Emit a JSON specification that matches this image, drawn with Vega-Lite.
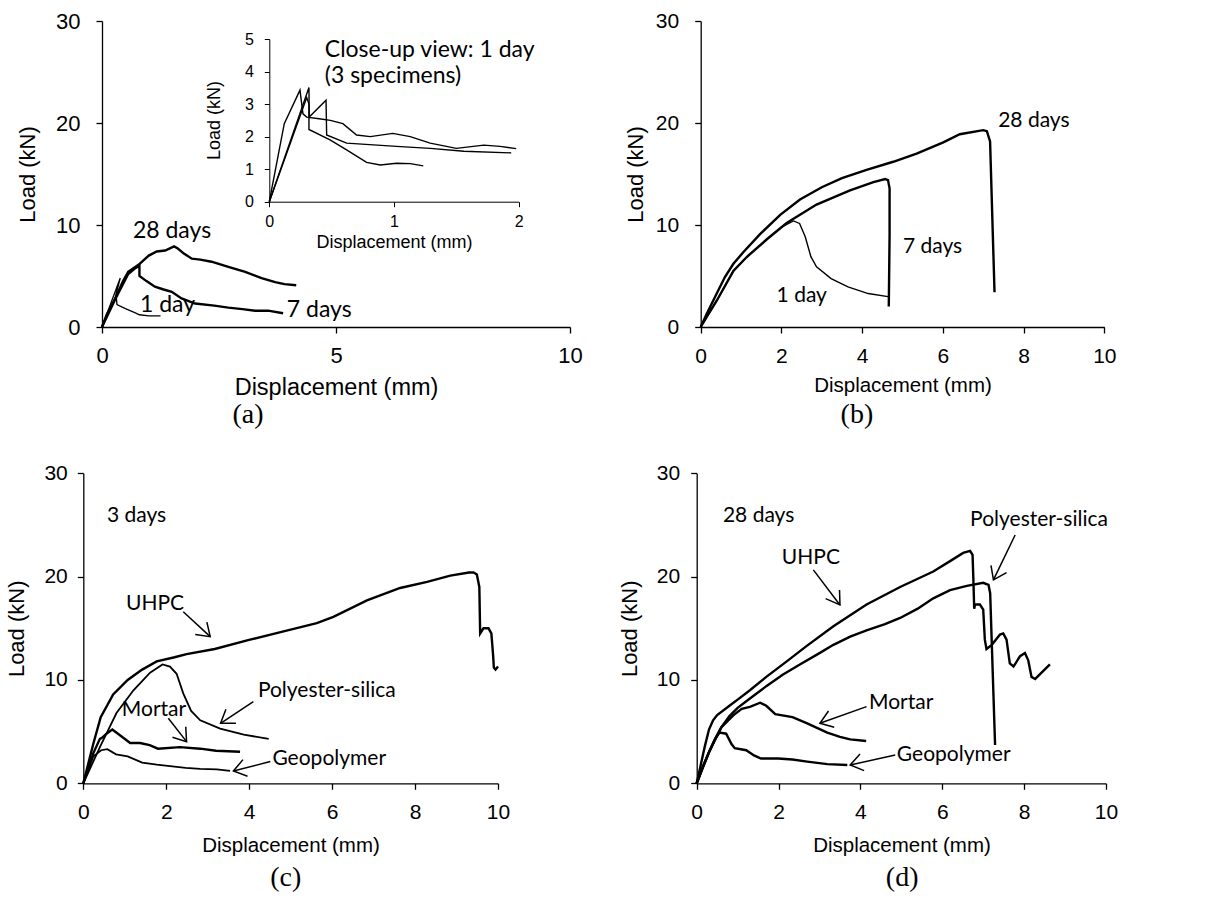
{
"$schema": "https://vega.github.io/schema/vega-lite/v6.json",
"width": 1207, "height": 903, "autosize": {"type": "none"}, "padding": 0, "background": "white",
"config": {"view": {"stroke": null}, "axis": {"grid": false, "domainColor": "black", "tickColor": "black", "labelColor": "black", "titleColor": "black", "labelFont": "Liberation Sans", "titleFont": "Liberation Sans", "titleFontWeight": "normal", "domainWidth": 1.3, "tickWidth": 1.3, "tickSize": 6, "labelFlush": false, "labelOverlap": false, "format": "d"}},
"datasets": {
"a_lines": [
{"s":"28","x":0,"y":0},{"s":"28","x":0.1,"y":1.2},{"s":"28","x":0.28,"y":2.8},{"s":"28","x":0.45,"y":4.5},{"s":"28","x":0.56,"y":5.4},{"s":"28","x":0.78,"y":6.1},{"s":"28","x":1.0,"y":7.0},{"s":"28","x":1.17,"y":7.4},{"s":"28","x":1.35,"y":7.5},{"s":"28","x":1.54,"y":7.9},{"s":"28","x":1.62,"y":7.7},{"s":"28","x":1.75,"y":7.2},{"s":"28","x":1.92,"y":6.7},{"s":"28","x":2.1,"y":6.6},{"s":"28","x":2.34,"y":6.4},{"s":"28","x":2.7,"y":5.9},{"s":"28","x":3.06,"y":5.4},{"s":"28","x":3.41,"y":4.8},{"s":"28","x":3.7,"y":4.4},{"s":"28","x":3.9,"y":4.2},{"s":"28","x":4.15,"y":4.1},
{"s":"7","x":0,"y":0},{"s":"7","x":0.28,"y":2.7},{"s":"7","x":0.56,"y":5.2},{"s":"7","x":0.72,"y":5.8},{"s":"7","x":0.8,"y":6.0},{"s":"7","x":0.8,"y":5.0},{"s":"7","x":0.95,"y":4.5},{"s":"7","x":1.13,"y":3.95},{"s":"7","x":1.3,"y":3.7},{"s":"7","x":1.49,"y":3.45},{"s":"7","x":1.7,"y":2.8},{"s":"7","x":1.99,"y":2.3},{"s":"7","x":2.4,"y":2.1},{"s":"7","x":2.7,"y":1.9},{"s":"7","x":3.0,"y":1.75},{"s":"7","x":3.27,"y":1.6},{"s":"7","x":3.55,"y":1.6},{"s":"7","x":3.87,"y":1.35},
{"s":"1","x":0,"y":0},{"s":"1","x":0.39,"y":4.8},{"s":"1","x":0.3,"y":3.2},{"s":"1","x":0.32,"y":2.2},{"s":"1","x":0.5,"y":1.8},{"s":"1","x":0.7,"y":1.4},{"s":"1","x":0.8,"y":1.2},{"s":"1","x":1.0,"y":1.1},{"s":"1","x":1.25,"y":1.1}
],
"a_text": [
{"t":"28 days","x":0.66,"y":8.73},{"t":"1 day","x":0.81,"y":1.47},{"t":"7 days","x":3.95,"y":0.98},{"t":"Close-up view: 1 day","x":4.76,"y":26.5},{"t":"(3 specimens)","x":4.76,"y":23.9}
],
"a_label": [{"t":"(a)","x":3.12,"y":-8.65}],
"i_lines": [
{"s":"1","x":0,"y":0},{"s":"1","x":0.12,"y":2.4},{"s":"1","x":0.246,"y":3.43},{"s":"1","x":0.27,"y":2.7},{"s":"1","x":0.3,"y":2.6},{"s":"1","x":0.4,"y":2.55},{"s":"1","x":0.49,"y":2.5},{"s":"1","x":0.59,"y":2.4},{"s":"1","x":0.7,"y":2.05},{"s":"1","x":0.81,"y":2.0},{"s":"1","x":0.99,"y":2.1},{"s":"1","x":1.13,"y":2.0},{"s":"1","x":1.29,"y":1.8},{"s":"1","x":1.5,"y":1.64},{"s":"1","x":1.72,"y":1.74},{"s":"1","x":1.85,"y":1.7},{"s":"1","x":1.98,"y":1.63},
{"s":"2","x":0,"y":0},{"s":"2","x":0.3,"y":3.2},{"s":"2","x":0.318,"y":3.0},{"s":"2","x":0.318,"y":2.22},{"s":"2","x":0.487,"y":1.9},{"s":"2","x":0.62,"y":1.59},{"s":"2","x":0.78,"y":1.21},{"s":"2","x":0.89,"y":1.13},{"s":"2","x":1.02,"y":1.18},{"s":"2","x":1.13,"y":1.17},{"s":"2","x":1.235,"y":1.1},
{"s":"3","x":0,"y":0},{"s":"3","x":0.318,"y":3.51},{"s":"3","x":0.32,"y":2.6},{"s":"3","x":0.455,"y":3.12},{"s":"3","x":0.46,"y":2.05},{"s":"3","x":0.62,"y":1.8},{"s":"3","x":1.02,"y":1.7},{"s":"3","x":1.29,"y":1.64},{"s":"3","x":1.56,"y":1.55},{"s":"3","x":1.94,"y":1.5}
],
"b_lines": [
{"s":"28","x":0,"y":0},{"s":"28","x":0.15,"y":1.3},{"s":"28","x":0.4,"y":3.3},{"s":"28","x":0.6,"y":4.9},{"s":"28","x":0.81,"y":6.2},{"s":"28","x":1.06,"y":7.35},{"s":"28","x":1.47,"y":9.1},{"s":"28","x":1.97,"y":11.0},{"s":"28","x":2.46,"y":12.5},{"s":"28","x":3.0,"y":13.7},{"s":"28","x":3.5,"y":14.6},{"s":"28","x":4.11,"y":15.4},{"s":"28","x":4.77,"y":16.2},{"s":"28","x":5.35,"y":17.0},{"s":"28","x":6.01,"y":18.1},{"s":"28","x":6.42,"y":18.9},{"s":"28","x":7.0,"y":19.3},{"s":"28","x":7.09,"y":19.2},{"s":"28","x":7.17,"y":18.2},{"s":"28","x":7.28,"y":3.4},
{"s":"7","x":0,"y":0},{"s":"7","x":0.15,"y":1.0},{"s":"7","x":0.4,"y":2.6},{"s":"7","x":0.81,"y":5.5},{"s":"7","x":1.14,"y":6.86},{"s":"7","x":1.64,"y":8.6},{"s":"7","x":2.13,"y":10.2},{"s":"7","x":2.87,"y":12.0},{"s":"7","x":3.7,"y":13.4},{"s":"7","x":4.28,"y":14.2},{"s":"7","x":4.57,"y":14.5},{"s":"7","x":4.64,"y":14.4},{"s":"7","x":4.68,"y":13.6},{"s":"7","x":4.68,"y":9.0},{"s":"7","x":4.66,"y":2.0},
{"s":"1","x":0,"y":0},{"s":"1","x":0.15,"y":1.0},{"s":"1","x":0.4,"y":2.6},{"s":"1","x":0.81,"y":5.5},{"s":"1","x":1.14,"y":6.86},{"s":"1","x":1.64,"y":8.6},{"s":"1","x":2.0,"y":9.8},{"s":"1","x":2.3,"y":10.4},{"s":"1","x":2.45,"y":10.15},{"s":"1","x":2.59,"y":8.85},{"s":"1","x":2.73,"y":6.9},{"s":"1","x":2.87,"y":5.9},{"s":"1","x":3.23,"y":4.75},{"s":"1","x":3.65,"y":3.93},{"s":"1","x":4.15,"y":3.28},{"s":"1","x":4.68,"y":2.95}
],
"b_text": [{"t":"28 days","x":7.37,"y":19.64},{"t":"7 days","x":5.01,"y":7.22},{"t":"1 day","x":1.88,"y":2.48}],
"b_label": [{"t":"(b)","x":3.87,"y":-8.65}],
"c_lines": [
{"s":"U","x":0,"y":0},{"s":"U","x":0.24,"y":3.8},{"s":"U","x":0.42,"y":6.4},{"s":"U","x":0.72,"y":8.6},{"s":"U","x":1.07,"y":10.0},{"s":"U","x":1.42,"y":11.0},{"s":"U","x":1.77,"y":11.8},{"s":"U","x":2.2,"y":12.2},{"s":"U","x":2.49,"y":12.5},{"s":"U","x":3.17,"y":13.0},{"s":"U","x":4.02,"y":13.9},{"s":"U","x":4.83,"y":14.7},{"s":"U","x":5.63,"y":15.5},{"s":"U","x":6.03,"y":16.1},{"s":"U","x":6.84,"y":17.7},{"s":"U","x":7.64,"y":18.9},{"s":"U","x":8.29,"y":19.5},{"s":"U","x":8.85,"y":20.1},{"s":"U","x":9.3,"y":20.4},{"s":"U","x":9.41,"y":20.4},{"s":"U","x":9.49,"y":20.2},{"s":"U","x":9.55,"y":19.0},{"s":"U","x":9.57,"y":14.5},{"s":"U","x":9.65,"y":15.0},{"s":"U","x":9.77,"y":15.0},{"s":"U","x":9.84,"y":14.5},{"s":"U","x":9.88,"y":12.5},{"s":"U","x":9.9,"y":11.2},{"s":"U","x":9.94,"y":11.0},{"s":"U","x":10.0,"y":11.3},
{"s":"M","x":0,"y":0},{"s":"M","x":0.24,"y":2.9},{"s":"M","x":0.4,"y":4.3},{"s":"M","x":0.45,"y":4.4},{"s":"M","x":0.56,"y":4.8},{"s":"M","x":0.7,"y":5.2},{"s":"M","x":0.9,"y":4.6},{"s":"M","x":1.13,"y":3.9},{"s":"M","x":1.37,"y":3.9},{"s":"M","x":1.6,"y":3.7},{"s":"M","x":1.8,"y":3.35},{"s":"M","x":2.33,"y":3.5},{"s":"M","x":2.82,"y":3.35},{"s":"M","x":3.2,"y":3.15},{"s":"M","x":3.78,"y":3.05},
{"s":"P","x":0,"y":0},{"s":"P","x":0.4,"y":3.5},{"s":"P","x":0.8,"y":6.8},{"s":"P","x":1.21,"y":9.0},{"s":"P","x":1.61,"y":10.7},{"s":"P","x":1.91,"y":11.5},{"s":"P","x":2.09,"y":11.3},{"s":"P","x":2.25,"y":10.6},{"s":"P","x":2.41,"y":8.7},{"s":"P","x":2.6,"y":7.0},{"s":"P","x":2.82,"y":6.1},{"s":"P","x":3.3,"y":5.3},{"s":"P","x":3.87,"y":4.7},{"s":"P","x":4.47,"y":4.3},
{"s":"G","x":0,"y":0},{"s":"G","x":0.24,"y":2.6},{"s":"G","x":0.43,"y":3.2},{"s":"G","x":0.58,"y":3.3},{"s":"G","x":0.79,"y":2.8},{"s":"G","x":1.07,"y":2.6},{"s":"G","x":1.42,"y":2.0},{"s":"G","x":1.77,"y":1.8},{"s":"G","x":2.47,"y":1.5},{"s":"G","x":2.82,"y":1.4},{"s":"G","x":3.22,"y":1.35},{"s":"G","x":3.54,"y":1.2}
],
"c_arrows": [
{"s":"u1","x":2.41,"y":16.6},{"s":"u1","x":3.06,"y":14.19},{"s":"u2","x":2.98,"y":15.6},{"s":"u2","x":3.06,"y":14.19},{"s":"u2","x":2.70,"y":14.4},
{"s":"p1","x":4.10,"y":7.90},{"s":"p1","x":3.31,"y":5.81},{"s":"p2","x":3.68,"y":5.81},{"s":"p2","x":3.31,"y":5.81},{"s":"p2","x":3.44,"y":7.16},
{"s":"m1","x":2.05,"y":6.29},{"s":"m1","x":2.49,"y":4.03},{"s":"m2","x":2.47,"y":5.48},{"s":"m2","x":2.49,"y":4.03},{"s":"m2","x":2.15,"y":4.45},
{"s":"g1","x":4.51,"y":2.1},{"s":"g1","x":3.62,"y":1.19},{"s":"g2","x":3.96,"y":0.68},{"s":"g2","x":3.62,"y":1.19},{"s":"g2","x":3.85,"y":2.29}
],
"c_text": [{"t":"3 days","x":0.57,"y":25.32},{"t":"UHPC","x":1.03,"y":16.78},{"t":"Polyester-silica","x":4.21,"y":8.38},{"t":"Mortar","x":0.93,"y":6.52},{"t":"Geopolymer","x":4.56,"y":1.77}],
"c_label": [{"t":"(c)","x":4.88,"y":-9.17}],
"d_lines": [
{"s":"U","x":0,"y":0},{"s":"U","x":0.1,"y":1.8},{"s":"U","x":0.2,"y":3.6},{"s":"U","x":0.3,"y":5.2},{"s":"U","x":0.4,"y":6.1},{"s":"U","x":0.5,"y":6.6},{"s":"U","x":0.8,"y":7.5},{"s":"U","x":1.0,"y":8.1},{"s":"U","x":1.3,"y":9.0},{"s":"U","x":1.7,"y":10.3},{"s":"U","x":2.2,"y":11.8},{"s":"U","x":2.69,"y":13.3},{"s":"U","x":3.34,"y":15.2},{"s":"U","x":4.15,"y":17.3},{"s":"U","x":4.97,"y":19.0},{"s":"U","x":5.78,"y":20.5},{"s":"U","x":6.19,"y":21.5},{"s":"U","x":6.51,"y":22.3},{"s":"U","x":6.68,"y":22.5},{"s":"U","x":6.74,"y":22.1},{"s":"U","x":6.76,"y":19.7},{"s":"U","x":6.78,"y":16.9},{"s":"U","x":6.8,"y":17.3},{"s":"U","x":6.92,"y":17.3},{"s":"U","x":7.0,"y":16.8},{"s":"U","x":7.04,"y":13.9},{"s":"U","x":7.08,"y":13.0},{"s":"U","x":7.21,"y":13.4},{"s":"U","x":7.41,"y":14.4},{"s":"U","x":7.49,"y":14.5},{"s":"U","x":7.57,"y":13.9},{"s":"U","x":7.65,"y":11.6},{"s":"U","x":7.74,"y":11.3},{"s":"U","x":7.9,"y":12.3},{"s":"U","x":8.02,"y":12.6},{"s":"U","x":8.1,"y":11.9},{"s":"U","x":8.18,"y":10.3},{"s":"U","x":8.27,"y":10.1},{"s":"U","x":8.63,"y":11.5},
{"s":"P","x":0,"y":0},{"s":"P","x":0.15,"y":1.6},{"s":"P","x":0.3,"y":3.0},{"s":"P","x":0.45,"y":4.3},{"s":"P","x":0.6,"y":5.4},{"s":"P","x":0.8,"y":6.5},{"s":"P","x":1.0,"y":7.3},{"s":"P","x":1.3,"y":8.2},{"s":"P","x":1.7,"y":9.4},{"s":"P","x":2.1,"y":10.5},{"s":"P","x":2.52,"y":11.5},{"s":"P","x":3.0,"y":12.6},{"s":"P","x":3.34,"y":13.4},{"s":"P","x":3.75,"y":14.2},{"s":"P","x":4.15,"y":14.8},{"s":"P","x":4.6,"y":15.4},{"s":"P","x":4.97,"y":16.0},{"s":"P","x":5.4,"y":16.9},{"s":"P","x":5.78,"y":17.9},{"s":"P","x":6.19,"y":18.7},{"s":"P","x":6.6,"y":19.1},{"s":"P","x":7.0,"y":19.4},{"s":"P","x":7.13,"y":19.2},{"s":"P","x":7.17,"y":18.4},{"s":"P","x":7.29,"y":3.7},
{"s":"M","x":0,"y":0},{"s":"M","x":0.3,"y":3.0},{"s":"M","x":0.6,"y":5.4},{"s":"M","x":0.9,"y":6.6},{"s":"M","x":1.1,"y":7.2},{"s":"M","x":1.3,"y":7.4},{"s":"M","x":1.55,"y":7.8},{"s":"M","x":1.7,"y":7.5},{"s":"M","x":1.92,"y":6.7},{"s":"M","x":2.34,"y":6.4},{"s":"M","x":2.7,"y":5.8},{"s":"M","x":3.19,"y":4.9},{"s":"M","x":3.5,"y":4.5},{"s":"M","x":3.75,"y":4.25},{"s":"M","x":4.14,"y":4.1},
{"s":"G","x":0,"y":0},{"s":"G","x":0.15,"y":1.6},{"s":"G","x":0.3,"y":3.0},{"s":"G","x":0.45,"y":4.3},{"s":"G","x":0.56,"y":4.9},{"s":"G","x":0.72,"y":4.8},{"s":"G","x":0.85,"y":3.8},{"s":"G","x":0.93,"y":3.4},{"s":"G","x":1.21,"y":3.2},{"s":"G","x":1.4,"y":2.7},{"s":"G","x":1.57,"y":2.4},{"s":"G","x":1.99,"y":2.4},{"s":"G","x":2.34,"y":2.3},{"s":"G","x":2.7,"y":2.1},{"s":"G","x":3.19,"y":1.86},{"s":"G","x":3.68,"y":1.77}
],
"d_arrows": [
{"s":"u1","x":2.85,"y":20.65},{"s":"u1","x":3.5,"y":17.26},{"s":"u2","x":3.49,"y":18.71},{"s":"u2","x":3.5,"y":17.26},{"s":"u2","x":3.15,"y":17.87},
{"s":"p1","x":7.78,"y":24.03},{"s":"p1","x":7.25,"y":19.68},{"s":"p2","x":7.57,"y":20.39},{"s":"p2","x":7.25,"y":19.68},{"s":"p2","x":7.19,"y":21.1},
{"s":"m1","x":4.15,"y":7.42},{"s":"m1","x":3.01,"y":5.81},{"s":"m2","x":3.36,"y":5.42},{"s":"m2","x":3.01,"y":5.81},{"s":"m2","x":3.22,"y":7.0},
{"s":"g1","x":4.85,"y":2.74},{"s":"g1","x":3.75,"y":1.77},{"s":"g2","x":4.09,"y":1.23},{"s":"g2","x":3.75,"y":1.77},{"s":"g2","x":3.99,"y":2.84}
],
"d_text": [{"t":"28 days","x":0.64,"y":25.32},{"t":"UHPC","x":2.08,"y":21.23},{"t":"Polyester-silica","x":6.68,"y":24.9},{"t":"Mortar","x":4.21,"y":7.19},{"t":"Geopolymer","x":4.89,"y":2.19}],
"d_label": [{"t":"(d)","x":5.02,"y":-9.17}]
},
"layer": [
{
"encoding": {
"x": {"field":"x","type":"quantitative","scale":{"domain":[0,10],"range":[102,570],"nice":false,"zero":false},"axis":{"orient":"bottom","offset":-576,"values":[0,5,10],"labelFontSize":22,"labelPadding":12,"title":"Displacement (mm)","titleFontSize":23.5,"titleX":336,"titleY":48.3,"titleBaseline":"top"}},
"y": {"field":"y","type":"quantitative","scale":{"domain":[0,30],"range":[327,21],"nice":false,"zero":false},"axis":{"orient":"left","offset":-102,"values":[0,10,20,30],"labelFontSize":22,"labelPadding":16,"title":"Load (kN)","titleFontSize":22,"titleX":-75,"titleY":174,"titleBaseline":"middle"}}
},
"layer": [
{"data":{"name":"a_lines"},"transform":[{"filter":"datum.s != '1'"}],"mark":{"type":"line","color":"black","strokeWidth":2.4},"encoding":{"detail":{"field":"s","type":"nominal"},"order":{"value":null}}},
{"data":{"name":"a_lines"},"transform":[{"filter":"datum.s == '1'"}],"mark":{"type":"line","color":"black","strokeWidth":1.3},"encoding":{"detail":{"field":"s","type":"nominal"},"order":{"value":null}}},
{"data":{"name":"a_text"},"mark":{"type":"text","align":"left","baseline":"alphabetic","font":"Lato","fontSize":23,"color":"black"},"encoding":{"text":{"field":"t","type":"nominal"}}},
{"data":{"name":"a_label"},"mark":{"type":"text","align":"center","baseline":"middle","font":"Liberation Serif","fontSize":28,"color":"black"},"encoding":{"text":{"field":"t","type":"nominal"}}}
]
},
{
"encoding": {
"x": {"field":"x","type":"quantitative","scale":{"domain":[0,2],"range":[269.3,518.7],"nice":false,"zero":false},"axis":{"orient":"bottom","offset":-701.3,"values":[0,1,2],"tickSize":5,"domainWidth":1,"tickWidth":1,"labelFontSize":16,"labelPadding":7,"title":"Displacement (mm)","titleFontSize":18,"titleX":394,"titleY":32,"titleBaseline":"top"}},
"y": {"field":"y","type":"quantitative","scale":{"domain":[0,5],"range":[201.7,39],"nice":false,"zero":false},"axis":{"orient":"left","offset":-269.3,"values":[0,1,2,3,4,5],"tickSize":5,"domainWidth":1,"tickWidth":1,"labelFontSize":16,"labelPadding":11,"title":"Load (kN)","titleFontSize":18,"titleX":-55,"titleY":120,"titleBaseline":"middle"}}
},
"layer": [
{"data":{"name":"i_lines"},"mark":{"type":"line","color":"black","strokeWidth":1.4},"encoding":{"detail":{"field":"s","type":"nominal"},"order":{"value":null}}}
]
},
{
"encoding": {
"x": {"field":"x","type":"quantitative","scale":{"domain":[0,10],"range":[700.7,1104.3],"nice":false,"zero":false},"axis":{"orient":"bottom","offset":-576,"values":[0,2,4,6,8,10],"labelFontSize":21,"labelPadding":12,"title":"Displacement (mm)","titleFontSize":20.5,"titleX":902.5,"titleY":48.5,"titleBaseline":"top"}},
"y": {"field":"y","type":"quantitative","scale":{"domain":[0,30],"range":[327,21],"nice":false,"zero":false},"axis":{"orient":"left","offset":-700.7,"values":[0,10,20,30],"labelFontSize":21,"labelPadding":16,"title":"Load (kN)","titleFontSize":22,"titleX":-65,"titleY":174,"titleBaseline":"middle"}}
},
"layer": [
{"data":{"name":"b_lines"},"transform":[{"filter":"datum.s != '1'"}],"mark":{"type":"line","color":"black","strokeWidth":2.4},"encoding":{"detail":{"field":"s","type":"nominal"},"order":{"value":null}}},
{"data":{"name":"b_lines"},"transform":[{"filter":"datum.s == '1'"}],"mark":{"type":"line","color":"black","strokeWidth":1.4},"encoding":{"detail":{"field":"s","type":"nominal"},"order":{"value":null}}},
{"data":{"name":"b_text"},"mark":{"type":"text","align":"left","baseline":"alphabetic","font":"Lato","fontSize":21,"color":"black"},"encoding":{"text":{"field":"t","type":"nominal"}}},
{"data":{"name":"b_label"},"mark":{"type":"text","align":"center","baseline":"middle","font":"Liberation Serif","fontSize":28,"color":"black"},"encoding":{"text":{"field":"t","type":"nominal"}}}
]
},
{
"encoding": {
"x": {"field":"x","type":"quantitative","scale":{"domain":[0,10],"range":[83.3,498],"nice":false,"zero":false},"axis":{"orient":"bottom","offset":-119.7,"values":[0,2,4,6,8,10],"labelFontSize":21,"labelPadding":12,"title":"Displacement (mm)","titleFontSize":20.5,"titleX":290.5,"titleY":52.2,"titleBaseline":"top"}},
"y": {"field":"y","type":"quantitative","scale":{"domain":[0,30],"range":[783.3,473.3],"nice":false,"zero":false},"axis":{"orient":"left","offset":-83.3,"values":[0,10,20,30],"labelFontSize":21,"labelPadding":10,"title":"Load (kN)","titleFontSize":22,"titleX":-67,"titleY":628.3,"titleBaseline":"middle"}}
},
"layer": [
{"data":{"name":"c_lines"},"transform":[{"filter":"datum.s == 'U' || datum.s == 'M'"}],"mark":{"type":"line","color":"black","strokeWidth":2.4},"encoding":{"detail":{"field":"s","type":"nominal"},"order":{"value":null}}},
{"data":{"name":"c_lines"},"transform":[{"filter":"datum.s == 'P' || datum.s == 'G'"}],"mark":{"type":"line","color":"black","strokeWidth":1.8},"encoding":{"detail":{"field":"s","type":"nominal"},"order":{"value":null}}},
{"data":{"name":"c_arrows"},"mark":{"type":"line","color":"black","strokeWidth":1.5},"encoding":{"detail":{"field":"s","type":"nominal"},"order":{"value":null}}},
{"data":{"name":"c_text"},"mark":{"type":"text","align":"left","baseline":"alphabetic","font":"Lato","fontSize":21,"color":"black"},"encoding":{"text":{"field":"t","type":"nominal"}}},
{"data":{"name":"c_label"},"mark":{"type":"text","align":"center","baseline":"middle","font":"Liberation Serif","fontSize":28,"color":"black"},"encoding":{"text":{"field":"t","type":"nominal"}}}
]
},
{
"encoding": {
"x": {"field":"x","type":"quantitative","scale":{"domain":[0,10],"range":[696.7,1106],"nice":false,"zero":false},"axis":{"orient":"bottom","offset":-119.7,"values":[0,2,4,6,8,10],"labelFontSize":21,"labelPadding":12,"title":"Displacement (mm)","titleFontSize":20.5,"titleX":901.5,"titleY":52.2,"titleBaseline":"top"}},
"y": {"field":"y","type":"quantitative","scale":{"domain":[0,30],"range":[783.3,473.3],"nice":false,"zero":false},"axis":{"orient":"left","offset":-696.7,"values":[0,10,20,30],"labelFontSize":21,"labelPadding":11,"title":"Load (kN)","titleFontSize":22,"titleX":-67,"titleY":628.3,"titleBaseline":"middle"}}
},
"layer": [
{"data":{"name":"d_lines"},"mark":{"type":"line","color":"black","strokeWidth":2.4},"encoding":{"detail":{"field":"s","type":"nominal"},"order":{"value":null}}},
{"data":{"name":"d_arrows"},"mark":{"type":"line","color":"black","strokeWidth":1.5},"encoding":{"detail":{"field":"s","type":"nominal"},"order":{"value":null}}},
{"data":{"name":"d_text"},"mark":{"type":"text","align":"left","baseline":"alphabetic","font":"Lato","fontSize":21,"color":"black"},"encoding":{"text":{"field":"t","type":"nominal"}}},
{"data":{"name":"d_label"},"mark":{"type":"text","align":"center","baseline":"middle","font":"Liberation Serif","fontSize":28,"color":"black"},"encoding":{"text":{"field":"t","type":"nominal"}}}
]
}
],
"resolve": {"scale": {"x": "independent", "y": "independent"}, "axis": {"x": "independent", "y": "independent"}}
}
